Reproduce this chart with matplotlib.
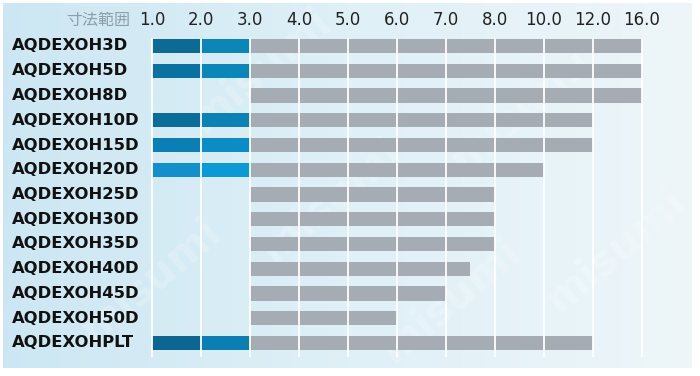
import matplotlib
matplotlib.use('Agg')
import matplotlib.pyplot as plt
import matplotlib.colors as mcolors
import numpy as np

plt.rcParams['font.family'] = ['DejaVu Sans']

# ---- data ----
models = ['AQDEXOH3D', 'AQDEXOH5D', 'AQDEXOH8D', 'AQDEXOH10D', 'AQDEXOH15D',
          'AQDEXOH20D', 'AQDEXOH25D', 'AQDEXOH30D', 'AQDEXOH35D', 'AQDEXOH40D',
          'AQDEXOH45D', 'AQDEXOH50D', 'AQDEXOHPLT']
range_min = [1.0, 1.0, 3.0, 1.0, 1.0, 1.0, 3.0, 3.0, 3.0, 3.0, 3.0, 3.0, 1.0]
range_max = [16.0, 16.0, 16.0, 12.0, 12.0, 10.0, 8.0, 8.0, 8.0, 7.5, 7.0, 6.0, 12.0]
tick_values = [1.0, 2.0, 3.0, 4.0, 5.0, 6.0, 7.0, 8.0, 10.0, 12.0, 16.0]
tick_labels = ['1.0', '2.0', '3.0', '4.0', '5.0', '6.0', '7.0', '8.0', '10.0', '12.0', '16.0']
header = '寸法範囲'
blue_limit = 3.0   # blue part up to 3.0, grey part after

# ---- styles ----
blue_shades = [('#0b6b95', '#0a86b8'), ('#0a72a3', '#0a86b8'), None,
               ('#0a6e9c', '#0a82b8'), ('#0a7fb5', '#0a8dc6'), ('#1190cc', '#0a9ad8'),
               None, None, None, None, None, None,
               ('#0a6792', '#0a80b2')]
grey = '#a5acb3'

W, H = 700, 376
fig = plt.figure(figsize=(7.0, 3.76), dpi=100)
fig.patch.set_facecolor('white')

# background panel (light blue gradient)
bg = fig.add_axes([0, 0, 1, 1])
bg.set_xlim(0, W)
bg.set_ylim(H, 0)
bg.axis('off')
cmap = mcolors.LinearSegmentedColormap.from_list('panel', ['#cce7f3', '#dff0f7', '#eef6f9'])
grad = np.linspace(0, 1, 256).reshape(1, -1)
bg.imshow(grad, cmap=cmap, aspect='auto', extent=[3, 692, 368, 3], zorder=0)

# watermark
for (wx, wy) in [(150, 280), (330, 200), (520, 110), (450, 300), (615, 250), (260, 70)]:
    bg.text(wx, wy, 'misumi', rotation=40, fontsize=30, fontweight='bold',
            color='white', alpha=0.2, ha='center', va='center', zorder=1)

# chart axes: x = column index, y = row index
col_px, col_w = 152, 49.0
row_px, row_h = 46, 24.75
ax = fig.add_axes([0, 0, 1, 1])
ax.set_xlim(-col_px / col_w, (W - col_px) / col_w)
ax.set_ylim((H - row_px) / row_h, -row_px / row_h)
ax.axis('off')
ax.patch.set_alpha(0)

idx = np.arange(len(tick_values))
def pos(v):
    return np.interp(v, tick_values, idx)

bar_h = 0.57
for i, (lo, hi) in enumerate(zip(range_min, range_max)):
    if lo < blue_limit:
        c1, c2 = blue_shades[i]
        ax.barh(i, pos(2.0) - pos(lo), left=pos(lo), height=bar_h, color=c1, zorder=3)
        ax.barh(i, pos(blue_limit) - pos(2.0), left=pos(2.0), height=bar_h, color=c2, zorder=3)
    start = max(lo, blue_limit)
    ax.barh(i, pos(hi) - pos(start), left=pos(start), height=bar_h, color=grey, zorder=3)
    ax.text(-col_px / col_w + 12 / col_w, i, models[i], ha='left', va='center',
            fontsize=11.8, fontweight='bold', color='#111111', zorder=5)

# white column separators
ax.vlines(idx, -0.32, len(models) - 0.45, colors='white', linewidth=1.3, zorder=4)

# header row
for p, lab in zip(idx, tick_labels):
    ax.text(p, -1.05, lab, ha='center', va='center', fontsize=12, color='#222222', zorder=5)
ax.text(-0.45, -1.05, header, ha='right', va='center', fontsize=11.5,
        color='#8c9ea8', family=['Noto Sans CJK JP', 'DejaVu Sans'], zorder=5)

fig.savefig('out.png', dpi=100, facecolor='white')
